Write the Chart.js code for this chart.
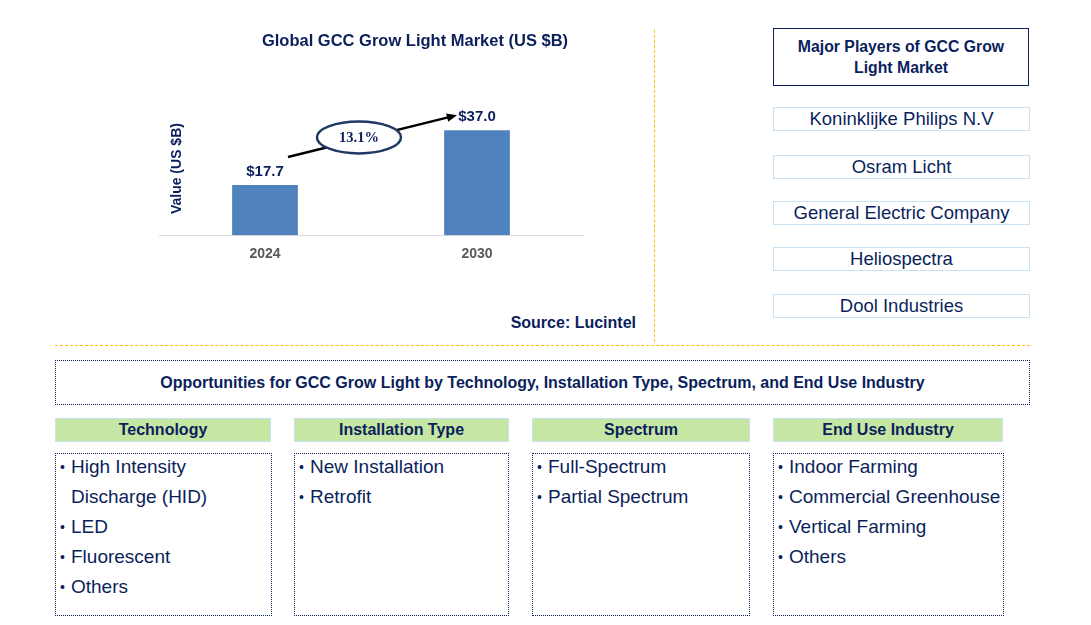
<!DOCTYPE html>
<html>
<head>
<meta charset="utf-8">
<script src="https://cdn.jsdelivr.net/npm/chart.js@4.4.1/dist/chart.umd.min.js"></script>
<style>
  body { margin: 0; background: #fff; font-family: "Liberation Sans", Arial, sans-serif; color: #0b1f5c; }
  #wrap { position: relative; width: 1091px; height: 625px; overflow: hidden; }
  #chartBox { position: absolute; left: 0; top: 0; width: 668px; height: 280px; }
  .vline { position: absolute; left: 654px; top: 30px; height: 312px; border-left: 1px dashed #ffc000; }
  .hline { position: absolute; left: 55px; top: 345px; width: 975px; border-top: 1px dashed #ffc000; }
  .source { position: absolute; left: 440px; width: 196px; top: 314px; text-align: right; font-weight: bold; font-size: 16px; }
  .head { position: absolute; left: 773px; top: 28px; width: 254px; height: 56px; border: 1.5px solid #0b1f5c;
          display: flex; align-items: center; justify-content: center; text-align: center; font-weight: bold; font-size: 15.8px; line-height: 21px; }
  .player { position: absolute; left: 773px; width: 255px; height: 22px; border: 1px solid #c9e1f2; text-align: center;
            font-size: 18.5px; line-height: 22px; }
  .opp { position: absolute; left: 55px; top: 360px; width: 973px; height: 43px; border: 1px dotted #0b1f5c;
         display: flex; align-items: center; justify-content: center; font-weight: bold; font-size: 16px; }
  .cat { position: absolute; top: 418px; height: 22px; background: #c6e6a3; border: 1px solid #c9e1f2; text-align: center;
         font-weight: bold; font-size: 16px; line-height: 22px; }
  .list { position: absolute; top: 453px; height: 161px; border: 1px dotted #0b1f5c; font-size: 19px; line-height: 30px; }
  .list ul { margin: 0; padding: 0 0 0 15px; list-style: none; position: relative; top: -2px; }
  .list li { position: relative; }
  .list li::before { content: "\2022"; position: absolute; left: -11px; font-size: 14px; }
</style>
</head>
<body>
<div id="wrap">
  <div id="chartBox"><canvas id="chart"></canvas></div>
  <div class="vline"></div>
  <div class="hline"></div>
  <div class="source">Source: Lucintel</div>
  <div id="right"></div>
  <div class="opp" id="oppTitle"></div>
  <div id="bottom"></div>
</div>
<script>
// chart values
const years = ['2024', '2030'];
const marketSize = [17.7, 37.0];
const cagr = '13.1%';
const chartTitle = 'Global GCC Grow Light Market (US $B)';
const yTitle = 'Value (US $B)';

// side panels
const playersTitle = 'Major Players of GCC Grow Light Market';
const players = ['Koninklijke Philips N.V', 'Osram Licht', 'General Electric Company', 'Heliospectra', 'Dool Industries'];
const oppTitle = 'Opportunities for GCC Grow Light by Technology, Installation Type, Spectrum, and End Use Industry';
const segments = ['Technology', 'Installation Type', 'Spectrum', 'End Use Industry'];
const segmentItems = [
  ['High Intensity Discharge (HID)', 'LED', 'Fluorescent', 'Others'],
  ['New Installation', 'Retrofit'],
  ['Full-Spectrum', 'Partial Spectrum'],
  ['Indoor Farming', 'Commercial Greenhouse', 'Vertical Farming', 'Others']
];

const navy = '#0b1f5c';

// right side boxes
const right = document.getElementById('right');
right.innerHTML = '<div class="head">Major Players of GCC Grow<br>Light Market</div>';
const playerTops = [107, 155, 201, 247, 294];
players.forEach((p, i) => {
  right.innerHTML += `<div class="player" style="top:${playerTops[i]}px">${p}</div>`;
});

// bottom boxes
document.getElementById('oppTitle').textContent = oppTitle;
const colLeft = [55, 294, 532, 773];
const colWidth = [214, 213, 216, 228];
const listWidth = [215, 213, 216, 229];
const bottom = document.getElementById('bottom');
segments.forEach((s, i) => {
  bottom.innerHTML += `<div class="cat" style="left:${colLeft[i]}px;width:${colWidth[i]}px">${s}</div>`;
  const items = segmentItems[i].map(t => `<li>${t === 'High Intensity Discharge (HID)' ? 'High Intensity<br>Discharge (HID)' : t}</li>`).join('');
  bottom.innerHTML += `<div class="list" style="left:${colLeft[i]}px;width:${listWidth[i]}px;white-space:nowrap"><ul>${items}</ul></div>`;
});

// title, labels above bars, the y title and the CAGR arrow
const extras = {
  id: 'extras',
  afterDatasetsDraw(chart) {
    const { ctx, scales: { x, y } } = chart;
    const meta = chart.getDatasetMeta(0);
    ctx.save();
    ctx.fillStyle = navy;
    ctx.textAlign = 'center';

    // title (centred over the whole left panel, not the plot)
    ctx.font = 'bold 16.5px "Liberation Sans", Arial';
    ctx.textBaseline = 'middle';
    ctx.fillText(chartTitle, 415, 41);

    ctx.font = 'bold 15px "Liberation Sans", Arial';
    ctx.textBaseline = 'bottom';
    meta.data.forEach((bar, i) => {
      ctx.fillText('$' + marketSize[i].toFixed(1), bar.x, bar.y - 6);
    });

    // y title
    ctx.save();
    ctx.translate(177, (y.top + y.bottom) / 2 + 20);
    ctx.rotate(-Math.PI / 2);
    ctx.font = 'bold 14px "Liberation Sans", Arial';
    ctx.textBaseline = 'middle';
    ctx.fillText(yTitle, 0, 0);
    ctx.restore();

    // arrow
    const b0 = meta.data[0], b1 = meta.data[1];
    const x0 = b0.x + 23, y0 = b0.y - 28;
    const x1 = b1.x - 20, y1 = b1.y - 15;
    ctx.strokeStyle = '#000';
    ctx.lineWidth = 2.5;
    ctx.beginPath();
    ctx.moveTo(x0, y0);
    ctx.lineTo(x1 - 8, y1 + 2);
    ctx.stroke();
    const ang = Math.atan2(y1 - y0, x1 - x0);
    ctx.fillStyle = '#000';
    ctx.beginPath();
    ctx.moveTo(x1, y1);
    ctx.lineTo(x1 - 11 * Math.cos(ang - 0.4), y1 - 11 * Math.sin(ang - 0.4));
    ctx.lineTo(x1 - 11 * Math.cos(ang + 0.4), y1 - 11 * Math.sin(ang + 0.4));
    ctx.closePath();
    ctx.fill();

    // ellipse with CAGR
    const ex = x0 + (x1 - x0) * 0.42, ey = y0 + (y1 - y0) * 0.42 - 2;
    ctx.beginPath();
    ctx.ellipse(ex, ey, 42, 16, 0, 0, Math.PI * 2);
    ctx.fillStyle = '#fff';
    ctx.fill();
    ctx.strokeStyle = '#1f3864';
    ctx.lineWidth = 2.5;
    ctx.stroke();
    ctx.fillStyle = navy;
    ctx.font = 'bold 14.5px "Liberation Serif", serif';
    ctx.textBaseline = 'middle';
    ctx.fillText(cagr, ex, ey + 1);
    ctx.restore();
  }
};

new Chart(document.getElementById('chart'), {
  type: 'bar',
  data: {
    labels: years,
    datasets: [{
      data: marketSize,
      backgroundColor: '#4f81bd',
      barPercentage: 0.31,
      categoryPercentage: 1
    }]
  },
  options: {
    responsive: true,
    maintainAspectRatio: false,
    animation: false,
    layout: { padding: { left: 159, right: 85, top: 62, bottom: 14 } },
    plugins: {
      legend: { display: false },
      tooltip: { enabled: false },
      title: { display: false }
    },
    scales: {
      x: {
        grid: { display: false },
        border: { display: true, color: '#d9d9d9', width: 1 },
        ticks: { color: '#595959', font: { family: '"Liberation Sans", Arial', size: 14, weight: 'bold' }, padding: 3 }
      },
      y: {
        display: false,
        min: 0,
        max: 61
      }
    }
  },
  plugins: [extras]
});
</script>
</body>
</html>
